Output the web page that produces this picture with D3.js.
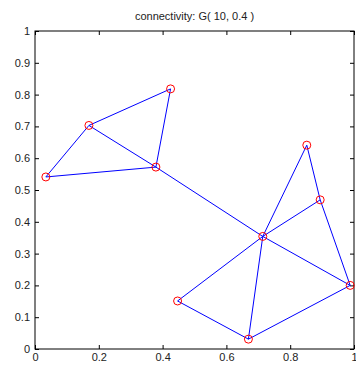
<!DOCTYPE html>
<html>
<head>
<meta charset="utf-8">
<script src="https://cdn.jsdelivr.net/npm/d3@7"></script>
<style>
  body { margin: 0; background: #fff; }
  svg { display: block; }
</style>
</head>
<body>
<div id="chart"></div>
<script>
// Nodos del grafo (posiciones en [0,1])
const nodeNames = ["A", "B", "C", "D", "E", "F", "G", "H", "I", "J"];
const nodeX = [0.425, 0.169, 0.034, 0.379, 0.714, 0.852, 0.894, 0.988, 0.447, 0.669];
const nodeY = [0.818, 0.703, 0.541, 0.572, 0.354, 0.641, 0.469, 0.200, 0.151, 0.031];

// Aristas (pares de índices)
const edges = [
  [0, 1], [0, 3], [1, 3], [1, 2], [2, 3], [3, 4],
  [4, 5], [4, 6], [4, 7], [4, 8], [4, 9],
  [5, 6], [6, 7], [7, 9], [8, 9]
];

const xTicks = [0, 0.2, 0.4, 0.6, 0.8, 1];
const yTicks = [0, 0.1, 0.2, 0.3, 0.4, 0.5, 0.6, 0.7, 0.8, 0.9, 1];
const title = "connectivity: G( 10, 0.4 )";

const width = 356;
const height = 366;
const marginTop = 31;
const marginRight = 2;
const marginBottom = 17;
const marginLeft = 35;

const x = d3.scaleLinear().domain([0, 1]).range([marginLeft, width - marginRight]);
const y = d3.scaleLinear().domain([0, 1]).range([height - marginBottom, marginTop]);

const svg = d3.select("#chart")
  .append("svg")
    .attr("width", width)
    .attr("height", height)
    .attr("style", "font: 11px 'Liberation Sans', Arial, sans-serif;");

// Ejes con marcas hacia dentro
const fmt = d => d3.format("")(+d.toFixed(1));

svg.append("g")
  .attr("transform", `translate(0,${height - marginBottom})`)
  .call(d3.axisBottom(x).tickValues(xTicks).tickSize(-4).tickPadding(4).tickFormat(fmt))
  .call(g => g.select(".domain").remove())
  .call(g => g.selectAll("text").attr("fill", "#222").attr("font-size", 11));

svg.append("g")
  .attr("transform", `translate(${marginLeft},0)`)
  .call(d3.axisLeft(y).tickValues(yTicks).tickSize(-4).tickPadding(5).tickFormat(fmt))
  .call(g => g.select(".domain").remove())
  .call(g => g.selectAll("text").attr("fill", "#222").attr("font-size", 11));

svg.append("g")
  .attr("transform", `translate(0,${marginTop})`)
  .call(d3.axisTop(x).tickValues(xTicks).tickSize(-4).tickFormat(""))
  .call(g => g.select(".domain").remove());

svg.append("g")
  .attr("transform", `translate(${width - marginRight},0)`)
  .call(d3.axisRight(y).tickValues(yTicks).tickSize(-4).tickFormat(""))
  .call(g => g.select(".domain").remove());

// Marco
svg.append("rect")
  .attr("x", x(0))
  .attr("y", y(1))
  .attr("width", x(1) - x(0))
  .attr("height", y(0) - y(1))
  .attr("fill", "none")
  .attr("stroke", "#000")
  .attr("stroke-width", 1);

// Aristas
svg.append("g")
  .attr("stroke", "#0000ff")
  .attr("stroke-width", 1)
  .selectAll("line")
  .data(edges)
  .join("line")
    .attr("x1", d => x(nodeX[d[0]]))
    .attr("y1", d => y(nodeY[d[0]]))
    .attr("x2", d => x(nodeX[d[1]]))
    .attr("y2", d => y(nodeY[d[1]]));

// Nodos
svg.append("g")
  .attr("fill", "none")
  .attr("stroke", "#ff0000")
  .attr("stroke-width", 1)
  .selectAll("circle")
  .data(nodeNames)
  .join("circle")
    .attr("cx", (d, i) => x(nodeX[i]))
    .attr("cy", (d, i) => y(nodeY[i]))
    .attr("r", 4);

// Título
svg.append("text")
  .attr("x", (x(0) + x(1)) / 2)
  .attr("y", 20)
  .attr("text-anchor", "middle")
  .attr("fill", "#222")
  .attr("font-size", 11)
  .text(title);
</script>
</body>
</html>
